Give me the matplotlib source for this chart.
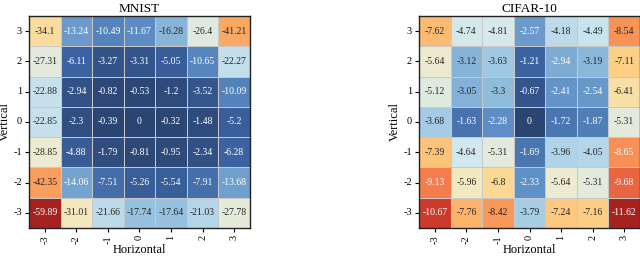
"""
Heatmaps of accuracy change under pixel shifts (MNIST / CIFAR-10).
Output: out.png
"""

import numpy as np
import matplotlib
matplotlib.use("Agg")
import matplotlib.pyplot as plt
import seaborn as sns
from matplotlib.colors import LinearSegmentedColormap

# rows run top -> bottom: vertical shift 3 .. -3 ; columns horizontal -3 .. 3
H_LABELS = [-3, -2, -1, 0, 1, 2, 3]
V_LABELS = [3, 2, 1, 0, -1, -2, -3]

MNIST = [
    [-34.1, -13.24, -10.49, -11.67, -16.28, -26.4, -41.21],
    [-27.31, -6.11, -3.27, -3.31, -5.05, -10.65, -22.27],
    [-22.88, -2.94, -0.82, -0.53, -1.2, -3.52, -10.09],
    [-22.85, -2.3, -0.39, 0, -0.32, -1.48, -5.2],
    [-28.85, -4.88, -1.79, -0.81, -0.95, -2.34, -6.28],
    [-42.35, -14.06, -7.51, -5.26, -5.54, -7.91, -13.68],
    [-59.89, -31.01, -21.66, -17.74, -17.64, -21.03, -27.78],
]

CIFAR10 = [
    [-7.62, -4.74, -4.81, -2.57, -4.18, -4.49, -8.54],
    [-5.64, -3.12, -3.63, -1.21, -2.94, -3.19, -7.11],
    [-5.12, -3.05, -3.3, -0.67, -2.41, -2.54, -6.41],
    [-3.68, -1.63, -2.28, 0, -1.72, -1.87, -5.31],
    [-7.39, -4.64, -5.31, -1.69, -3.96, -4.05, -8.65],
    [-9.13, -5.96, -6.8, -2.33, -5.64, -5.31, -9.68],
    [-10.67, -7.76, -8.42, -3.79, -7.24, -7.16, -11.62],
]

TITLES = ["MNIST", "CIFAR-10"]

# muted red-yellow-blue, sampled from the figure
CMAP = LinearSegmentedColormap.from_list("ryb", [
    "#a5221f", "#d6402e", "#f3774b", "#fba35f", "#fdd58a", "#f1ecca",
    "#d2e8ef", "#9ac5e1", "#5f90c6", "#3b62a0", "#2b4572",
])

plt.rcParams["font.family"] = ["Liberation Serif", "DejaVu Serif"]

fig = plt.figure(figsize=(6.4, 2.58), dpi=100)
positions = [[0.0453, 0.1163, 0.3453, 0.8217],
             [0.6547, 0.1163, 0.3453, 0.8217]]

for pos, data, title in zip(positions, [MNIST, CIFAR10], TITLES):
    ax = fig.add_axes(pos)
    arr = np.array(data)
    annot = np.array([["%g" % round(v, 2) for v in row] for row in data])
    sns.heatmap(arr, ax=ax, cmap=CMAP, cbar=False, annot=annot, fmt="",
                annot_kws={"fontsize": 7}, linewidths=0.6,
                linecolor="#c8c8c8",
                xticklabels=H_LABELS, yticklabels=V_LABELS)
    for s in ax.spines.values():
        s.set_visible(True)
        s.set_color("#222222")
        s.set_linewidth(1.0)
    ax.tick_params(axis="both", length=3, width=0.8, labelsize=7.5, pad=2)
    ax.set_xticklabels(H_LABELS, rotation=90)
    ax.set_yticklabels(V_LABELS, rotation=0)
    ax.set_xlabel("Horizontal", fontsize=9, labelpad=0)
    ax.set_ylabel("Vertical", fontsize=9, labelpad=2)
    ax.set_title(title, fontsize=9.5, pad=3)

fig.savefig("out.png", dpi=100)
plt.close(fig)
